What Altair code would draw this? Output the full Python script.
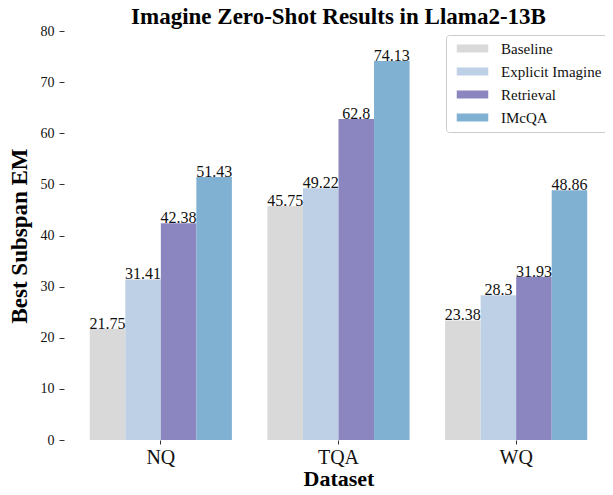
import altair as alt
import pandas as pd

datasets = ["NQ", "TQA", "WQ"]
methods = ["Baseline", "Explicit Imagine", "Retrieval", "IMcQA"]
baseline = [21.75, 45.75, 23.38]
explicit = [31.41, 49.22, 28.3]
retrieval = [42.38, 62.8, 31.93]
imcqa = [51.43, 74.13, 48.86]
colors = ["#d9d9d9", "#bed0e6", "#8b85c0", "#80b1d3"]

series = [baseline, explicit, retrieval, imcqa]
rows = []
for m, vals in zip(methods, series):
    for d, v in zip(datasets, vals):
        rows.append({"Dataset": d, "Method": m, "EM": v, "Label": f"{v:g}"})
df = pd.DataFrame(rows)

FONT = "Liberation Serif"

base = alt.Chart(df).encode(
    x=alt.X(
        "Dataset:N",
        sort=datasets,
        scale=alt.Scale(paddingInner=0.2, paddingOuter=0.1),
        axis=alt.Axis(
            title="Dataset", labelAngle=0, labelFontSize=20, tickSize=4,
            domain=False, labelPadding=3, titleFontSize=22,
            titleY=45, titleBaseline="alphabetic",
        ),
    ),
    xOffset=alt.XOffset("Method:N", sort=methods,
                        scale=alt.Scale(paddingInner=0, paddingOuter=0)),
    y=alt.Y(
        "EM:Q",
        scale=alt.Scale(domain=[0, 80], nice=False),
        axis=alt.Axis(
            title="Best Subspan EM", values=[0, 10, 20, 30, 40, 50, 60, 70, 80],
            domain=False, grid=False, tickSize=5, offset=8, labelPadding=5,
            labelFontSize=14, titleFontSize=23, titlePadding=9,
        ),
    ),
)

bars = base.mark_bar().encode(
    color=alt.Color(
        "Method:N", sort=methods,
        scale=alt.Scale(domain=methods, range=colors),
        legend=alt.Legend(
            title=None, orient="none", legendX=374, legendY=4,
            strokeColor="#cccccc", fillColor="white", padding=6, cornerRadius=3,
            symbolType="M-3.5,-0.9H3.5V0.9H-3.5Z", symbolSize=81, symbolStrokeWidth=0,
            symbolOffset=13, labelOffset=21, rowPadding=7,
            labelFontSize=15, labelFont=FONT, labelColor="#111",
        ),
    )
)

text = base.mark_text(baseline="alphabetic", font=FONT, fontSize=16, color="#111").encode(
    text="Label:N"
)

chart = (
    (bars + text)
    .properties(
        width=533, height=409,
        autosize=alt.AutoSizeParams(type="none"),
        padding={"left": 64, "top": 23, "right": 0, "bottom": 47},
        title=alt.Title("Imagine Zero-Shot Results in Llama2-13B", fontSize=23,
                        font=FONT, fontWeight="bold", offset=2, dy=7, color="#000"),
    )
    .configure_view(stroke=None)
    .configure_axis(
        labelFont=FONT, titleFont=FONT, titleFontWeight="bold",
        labelColor="#111", titleColor="#000", tickColor="#333",
    )
)

chart.save("out.html", embed_options={"renderer": "svg", "actions": False})
